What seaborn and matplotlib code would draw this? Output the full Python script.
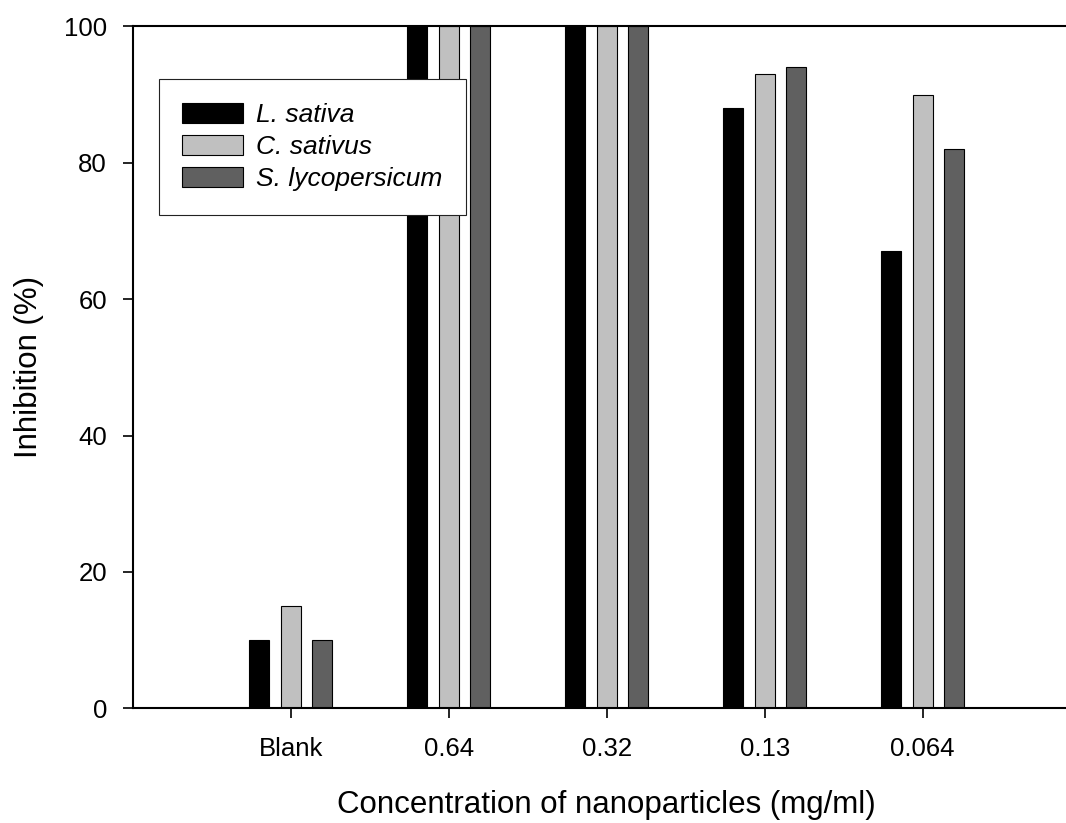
import matplotlib
matplotlib.use("Agg")
import matplotlib.pyplot as plt
import seaborn as sns
import pandas as pd
from matplotlib.patches import Patch

categories = ["Blank", "0.64", "0.32", "0.13", "0.064"]
species = ["L. sativa", "C. sativus", "S. lycopersicum"]
l_sativa = [10, 100, 100, 88, 67]
c_sativus = [15, 100, 100, 93, 90]
s_lycopersicum = [10, 100, 100, 94, 82]
colors = ["#000000", "#c0c0c0", "#606060"]

rows = []
for sp, vals in zip(species, [l_sativa, c_sativus, s_lycopersicum]):
    for c, v in zip(categories, vals):
        rows.append({"cat": c, "species": sp, "val": v})
df = pd.DataFrame(rows)

sns.set_style("white")
plt.rcParams["font.family"] = ["Liberation Sans", "DejaVu Sans"]
plt.rcParams["text.color"] = "black"
plt.rcParams["axes.labelcolor"] = "black"
plt.rcParams["xtick.color"] = "black"
plt.rcParams["ytick.color"] = "black"

W, H = 1066, 823
fig = plt.figure(figsize=(W / 100, H / 100), dpi=100)
left_px, right_px, top_px, bot_px = 132.7, 1080.7, 26.5, 708.3
ax = fig.add_axes([left_px / W, 1 - bot_px / H, (right_px - left_px) / W, (bot_px - top_px) / H])

sns.barplot(data=df, x="cat", y="val", hue="species", order=categories,
            hue_order=species, palette=colors, width=0.6, gap=0.37,
            edgecolor="black", linewidth=0.8, saturation=1, ax=ax, legend=False)

ax.set_xlim(-1, 5)
ax.set_ylim(0, 100)
ax.set_yticks([0, 20, 40, 60, 80, 100])
ax.set_xlabel("Concentration of nanoparticles (mg/ml)", fontsize=22.5, labelpad=21, color="black")
ax.set_ylabel("Inhibition (%)", fontsize=22.5, labelpad=14, color="black")

for s in ["left", "bottom", "top", "right"]:
    ax.spines[s].set_visible(True)
    ax.spines[s].set_color("black")
    ax.spines[s].set_linewidth(1.5)

ax.tick_params(axis="both", direction="out", length=7.5, width=1.2, colors="black",
               labelcolor="black", labelsize=18.5, left=True, bottom=True)
ax.tick_params(axis="y", pad=11)
ax.tick_params(axis="x", pad=13)

handles = [Patch(facecolor=c, edgecolor="black", linewidth=0.8) for c in colors]
leg = ax.legend(handles, species, loc="upper left",
                bbox_to_anchor=(158.7 / W, 1 - 79 / H), bbox_transform=fig.transFigure,
                borderaxespad=0, frameon=True, fancybox=False, framealpha=1,
                prop={"style": "italic", "size": 19},
                handlelength=2.3, handleheight=0.78, handletextpad=0.5,
                labelspacing=0.3, borderpad=0.9)
for t in leg.get_texts():
    t.set_color("black")
leg.get_frame().set_edgecolor("#222222")
leg.get_frame().set_linewidth(0.8)

fig.savefig("out.png", dpi=100)
